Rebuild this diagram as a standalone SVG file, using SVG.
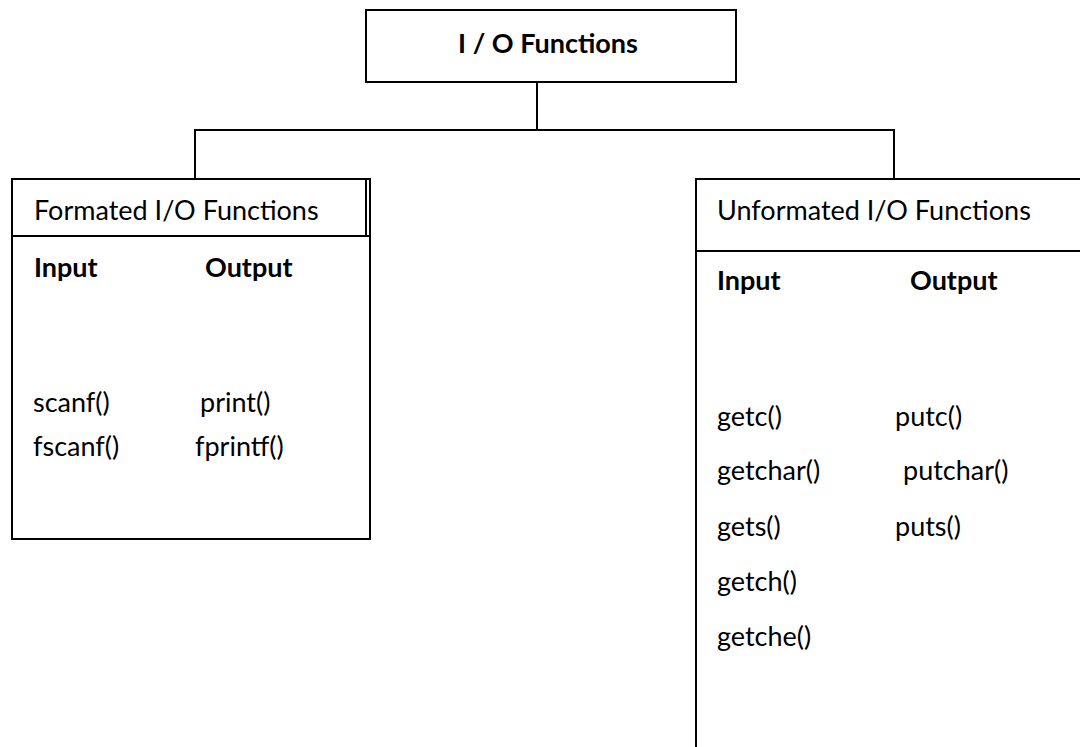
<svg xmlns="http://www.w3.org/2000/svg" width="1080" height="747" viewBox="0 0 1080 747">
<style>
.box{fill:#fff;stroke:#000;stroke-width:2}
.ln{fill:none;stroke:#000;stroke-width:2}
.t{font-family:Lato,"Liberation Sans",sans-serif;font-size:27px;fill:#000}
.b{font-weight:bold}
</style>
<rect width="1080" height="747" fill="#fff"/>
<g id="connectors">
<line class="ln" x1="537" y1="82" x2="537" y2="130"/>
<line class="ln" x1="194" y1="130" x2="895" y2="130"/>
<line class="ln" x1="195" y1="129" x2="195" y2="179"/>
<line class="ln" x1="894" y1="129" x2="894" y2="179"/>
</g>
<g id="io-functions">
<rect class="box" x="366" y="10" width="370" height="72"/>
<text class="t b" x="548" y="53" text-anchor="middle">I / O Functions</text>
</g>
<g id="formatted">
<rect class="box" x="12" y="179" width="358" height="360"/>
<line class="ln" x1="12" y1="236" x2="370" y2="236"/>
<line class="ln" x1="366" y1="179" x2="366" y2="236"/>
<text class="t" x="34" y="220">Formated I/O Functions</text>
<text class="t b" x="34" y="277">Input</text>
<text class="t b" x="205" y="277">Output</text>
<text class="t" x="33" y="412">scanf()</text>
<text class="t" x="200" y="412">print()</text>
<text class="t" x="33" y="456">fscanf()</text>
<text class="t" x="195" y="456">fprintf()</text>
</g>
<g id="unformatted">
<rect class="box" x="696" y="179" width="400" height="580"/>
<line class="ln" x1="696" y1="251" x2="1080" y2="251"/>
<text class="t" x="717" y="220">Unformated I/O Functions</text>
<text class="t b" x="717" y="290">Input</text>
<text class="t b" x="910" y="290">Output</text>
<text class="t" x="717" y="426">getc()</text>
<text class="t" x="895" y="426">putc()</text>
<text class="t" x="717" y="480">getchar()</text>
<text class="t" x="903" y="480">putchar()</text>
<text class="t" x="717" y="536">gets()</text>
<text class="t" x="895" y="536">puts()</text>
<text class="t" x="717" y="591">getch()</text>
<text class="t" x="717" y="646">getche()</text>
</g>
</svg>
